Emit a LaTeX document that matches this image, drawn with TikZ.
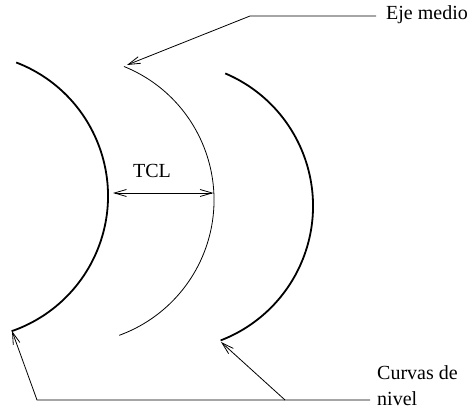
\documentclass[tikz,border=0pt]{standalone}
\usepackage{fontspec}
\setmainfont{Liberation Serif}
\usetikzlibrary{arrows.meta}
\begin{document}
\begin{tikzpicture}[x=1pt,y=1pt,
  thinline/.style={line width=0.8pt},
  thickline/.style={line width=1.8pt},
  lbl/.style={inner sep=0pt, font=\fontsize{20}{26.5}\selectfont},
  arr/.style={thinline, -{Straight Barb[length=12pt,width=7pt]}},
  ]
\useasboundingbox (0,0) rectangle (471,411);
% level curves and axis
\draw[thickline] (-35,215) ++(69:143) coordinate (Ltop) arc[start angle=69,end angle=-71,radius=143pt] coordinate (Lbot);
\draw[thinline] (70,211) ++(68:144) coordinate (Mtop) arc[start angle=68,end angle=-70,radius=144pt] coordinate (Mbot);
\draw[thickline] (169,205) ++(67:144) coordinate (Rtop) arc[start angle=67,end angle=-69,radius=144pt] coordinate (Rbot);
% labels
\node[lbl, anchor=base west] (eje) at (386,391) {Eje medio};
\node[lbl, anchor=base] (tcl) at (152,233) {TCL};
\node[lbl, anchor=base west, align=left] (curv) at (377,5) {Curvas de\\nivel};
% connector coordinates
\coordinate (e0) at (376,395);
\coordinate (e1) at (250,395);
\coordinate (mtip) at (127,346);
\coordinate (tl) at (113,218);
\coordinate (tr) at (213.5,218);
\coordinate (b3) at (370,11);
\coordinate (b2) at (285,11);
\coordinate (b1) at (37,11);
\coordinate (ltip) at (12,80);
\coordinate (rtip) at (221,69);
% connectors
\draw[arr] (e0) -- (e1) -- (mtip);
\draw[thinline, {Straight Barb[length=12pt,width=7pt]}-{Straight Barb[length=12pt,width=7pt]}] (tl) -- (tr);
\draw[arr] (b3) -- (b1) -- (ltip);
\draw[arr] (b2) -- (rtip);
\end{tikzpicture}
\end{document}
